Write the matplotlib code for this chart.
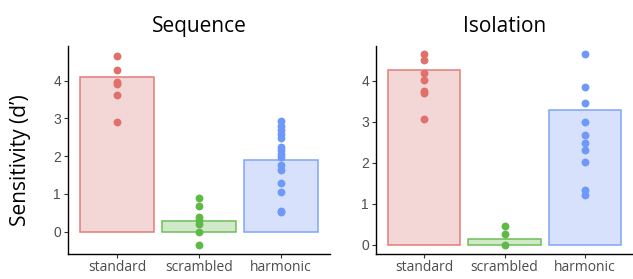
import matplotlib
matplotlib.use("Agg")
import matplotlib.pyplot as plt

# conditions on the x axis
conditions = ["standard", "scrambled", "harmonic"]

# bar heights (group means)
seq_means = [4.10, 0.28, 1.91]
iso_means = [4.26, 0.15, 3.30]

# individual points, Sequence panel
seq_standard = [4.65, 4.28, 3.96, 3.90, 3.61, 2.91]
seq_scrambled = [0.90, 0.69, 0.38, 0.30, 0.21, 0.0, -0.36]
seq_harmonic = [2.94, 2.81, 2.70, 2.59, 2.47, 2.24, 2.15, 2.05, 1.98,
                1.77, 1.62, 1.29, 1.05, 0.56, 0.51]

# individual points, Isolation panel
iso_standard = [4.66, 4.50, 4.20, 4.02, 3.76, 3.71, 3.08]
iso_scrambled = [0.46, 0.28, 0.0]
iso_harmonic = [4.65, 3.86, 3.47, 3.00, 2.69, 2.48, 2.32, 2.03, 1.35, 1.21]

dot_colors = ["#E0706A", "#5FB946", "#6F99F8"]
edge_colors = ["#E27E78", "#6DBF5B", "#80A4F8"]
fill_colors = ["#F3D6D6", "#D0E9C9", "#D7E1FB"]

plt.rcParams['font.family'] = ['Open Sans', 'DejaVu Sans']

fig = plt.figure(figsize=(6.33, 2.79), dpi=100)
ax1 = fig.add_axes([0.1074, 0.0896, 0.414, 0.745])
ax2 = fig.add_axes([0.594, 0.0896, 0.406, 0.745])


def draw_panel(ax, title, means, points, ylim):
    xs = range(len(conditions))
    ax.bar(xs, means, width=0.9, color=fill_colors, edgecolor=edge_colors,
           linewidth=1.1, zorder=1)
    for i, vals in enumerate(points):
        ax.scatter([i] * len(vals), vals, s=32, color=dot_colors[i],
                   linewidths=0, zorder=3)
    ax.set_xlim(-0.6, 2.6)
    ax.set_ylim(*ylim)
    ax.set_xticks(list(xs))
    ax.set_xticklabels(conditions, fontsize=10, color="#4D4D4D")
    ax.set_yticks([0, 1, 2, 3, 4])
    ax.set_yticklabels([str(t) for t in [0, 1, 2, 3, 4]],
                       family="Liberation Sans", fontsize=10, color="#4D4D4D")
    ax.tick_params(axis='y', length=3, width=0.8, color="#333333", pad=2)
    ax.tick_params(axis='x', length=3, width=0.8, color="#333333", pad=1)
    for s in ["top", "right"]:
        ax.spines[s].set_visible(False)
    for s in ["left", "bottom"]:
        ax.spines[s].set_linewidth(1.0)
        ax.spines[s].set_color("black")
    ax.set_title(title, fontsize=15, pad=10)


draw_panel(ax1, "Sequence", seq_means,
           [seq_standard, seq_scrambled, seq_harmonic], (-0.59, 4.91))
draw_panel(ax2, "Isolation", iso_means,
           [iso_standard, iso_scrambled, iso_harmonic], (-0.22, 4.85))
ax1.set_ylabel("Sensitivity (d\u2019)", fontsize=15)
ax1.yaxis.label.set_va('center')
ax1.yaxis.set_label_coords(-0.18, 0.45)

fig.savefig("out.png", dpi=100)
